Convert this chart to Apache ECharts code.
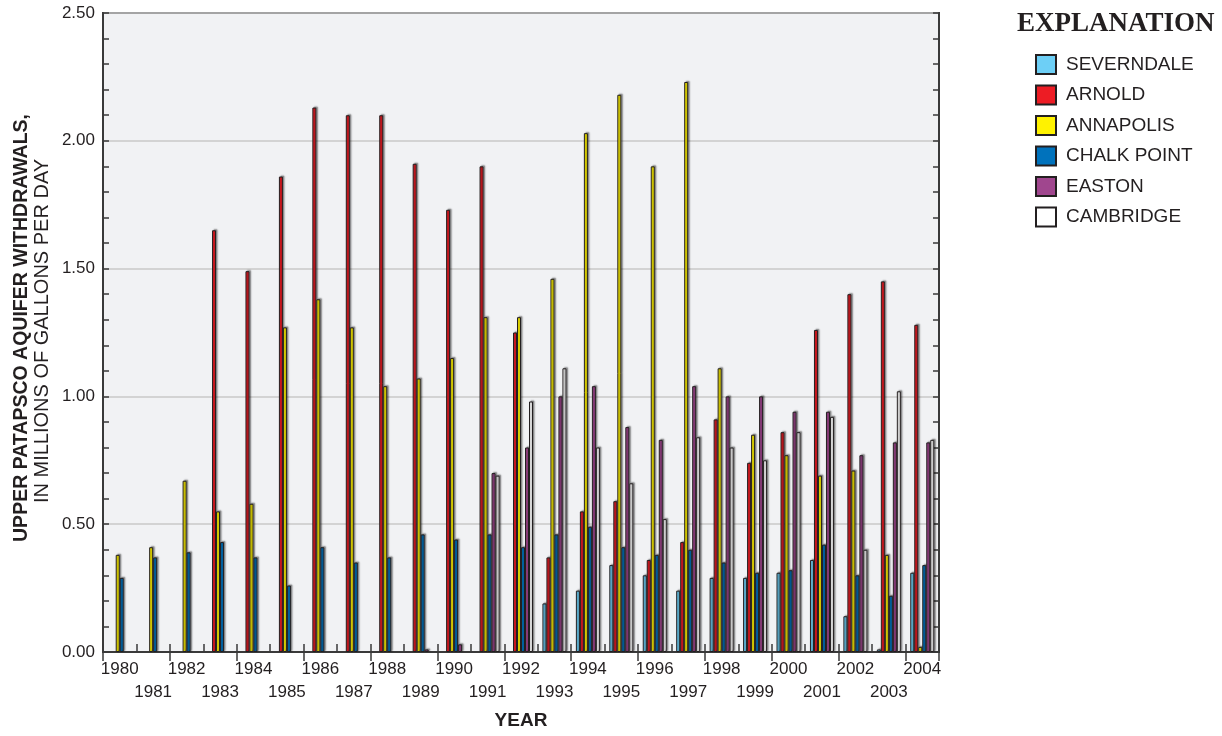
<!DOCTYPE html>
<html>
<head>
<meta charset="utf-8">
<script src="https://cdn.jsdelivr.net/npm/echarts@6/dist/echarts.min.js"></script>
<style>
html,body{margin:0;padding:0;background:#fff;}
#chart{width:1222px;height:736px;}
</style>
</head>
<body>
<div id="chart"></div>
<script>
const years = ['1980','1981','1982','1983','1984','1985','1986','1987','1988','1989','1990','1991','1992','1993','1994','1995','1996','1997','1998','1999','2000','2001','2002','2003','2004'];
const severndale = [null,null,null,null,null,null,null,null,null,null,null,null,null,0.19,0.24,0.34,0.30,0.24,0.29,0.29,0.31,0.36,0.14,0.01,0.31];
const arnold = [null,null,null,1.65,1.49,1.86,2.13,2.10,2.10,1.91,1.73,1.90,1.25,0.37,0.55,0.59,0.36,0.43,0.91,0.74,0.86,1.26,1.40,1.45,1.28];
const annapolis = [0.38,0.41,0.67,0.55,0.58,1.27,1.38,1.27,1.04,1.07,1.15,1.31,1.31,1.46,2.03,2.18,1.90,2.23,1.11,0.85,0.77,0.69,0.71,0.38,0.02];
const chalkPoint = [0.29,0.37,0.39,0.43,0.37,0.26,0.41,0.35,0.37,0.46,0.44,0.46,0.41,0.46,0.49,0.41,0.38,0.40,0.35,0.31,0.32,0.42,0.30,0.22,0.34];
const easton = [null,null,null,null,null,null,null,null,null,0.01,0.03,0.70,0.80,1.00,1.04,0.88,0.83,1.04,1.00,1.00,0.94,0.94,0.77,0.82,0.82];
const cambridge = [null,null,null,null,null,null,null,null,null,null,null,0.69,0.98,1.11,0.80,0.66,0.52,0.84,0.80,0.75,0.86,0.92,0.40,1.02,0.83];
const yTicks = ['0.00','0.50','1.00','1.50','2.00','2.50'];

const seriesDefs = [
  {name:'SEVERNDALE', data:severndale, color:'#6dcff6'},
  {name:'ARNOLD', data:arnold, color:'#ed1c24'},
  {name:'ANNAPOLIS', data:annapolis, color:'#fff200'},
  {name:'CHALK POINT', data:chalkPoint, color:'#0072bc'},
  {name:'EASTON', data:easton, color:'#a0468e'},
  {name:'CAMBRIDGE', data:cambridge, color:'#ffffff'}
];

const tickFont='Liberation Sans', tickSize=17;

const chart = echarts.init(document.getElementById('chart'), null, {renderer:'canvas'});
const option = {
  backgroundColor:'#ffffff',
  animation:false,
  grid:{left:103,right:283,top:13,bottom:84,show:true,backgroundColor:'#f1f2f4',borderColor:'#3a3a3a',borderWidth:2},
  legend:{
    orient:'vertical', left:1035, top:54, itemWidth:20, itemHeight:19, itemGap:9.5,
    icon:'rect', padding:0,
    textStyle:{fontFamily:'Liberation Sans', fontSize:19, color:'#231f20', padding:[0,0,0,5]},
    data: seriesDefs.map(s=>s.name)
  },
  xAxis:[{
    type:'category', data:years, position:'bottom',
    axisLine:{show:true,lineStyle:{color:'#3a3a3a',width:2}},
    axisTick:{show:true,inside:true,length:8,lineStyle:{color:'#3a3a3a',width:1.5}},
    axisLabel:{interval:0, margin:6, fontFamily:tickFont, fontSize:tickSize, color:'#231f20', lineHeight:23,
      formatter:(v,i)=> (i%2===1 ? '\n'+v : v)}
  },{
    type:'category', data:years, position:'top',
    axisLine:{show:true,lineStyle:{color:'#3a3a3a',width:2}},
    axisTick:{show:true,inside:true,length:9,lineStyle:{color:'#3a3a3a',width:1.5}},
    axisLabel:{show:false}
  }],
  yAxis:[{
    type:'value', min:0, max:2.5, interval:0.5, position:'left',
    axisLine:{show:true,lineStyle:{color:'#3a3a3a',width:2}},
    axisTick:{show:true,inside:true,length:6,lineStyle:{color:'#3a3a3a',width:1.5}},
    minorTick:{show:true,splitNumber:5,length:6,lineStyle:{color:'#3a3a3a',width:1.5}},
    splitLine:{show:true,lineStyle:{color:'#c9c9c9',width:1.5}},
    axisLabel:{margin:8, fontFamily:tickFont, fontSize:tickSize, color:'#231f20',
      formatter:(v)=> yTicks[Math.round(v/0.5)]}
  },{
    type:'value', min:0, max:2.5, interval:0.5, position:'right',
    axisLine:{show:true,lineStyle:{color:'#3a3a3a',width:2}},
    axisTick:{show:true,inside:true,length:6,lineStyle:{color:'#3a3a3a',width:1.5}},
    minorTick:{show:true,splitNumber:5,length:6,lineStyle:{color:'#3a3a3a',width:1.5}},
    splitLine:{show:false},
    axisLabel:{show:false}
  }],
  series: seriesDefs.map(s=>({
    name:s.name, type:'bar', xAxisIndex:0, yAxisIndex:0,
    data:s.data, barWidth:4, barGap:'0%',
    itemStyle:{color:s.color, borderColor:'#231f20', borderWidth:1,
      shadowColor:'rgba(0,0,0,0.4)', shadowOffsetX:1.5, shadowOffsetY:-1, shadowBlur:1.5}
  })),
  graphic:[
    {type:'text', x:21.7, y:328, rotation:Math.PI/2,
     style:{text:'UPPER PATAPSCO AQUIFER WITHDRAWALS,', fontFamily:'Liberation Sans', fontWeight:'bold', fontSize:19.5, fill:'#231f20', align:'center', verticalAlign:'middle'}},
    {type:'text', x:42.7, y:331, rotation:Math.PI/2,
     style:{text:'IN MILLIONS OF GALLONS PER DAY', fontFamily:'Liberation Sans', fontSize:20, fill:'#231f20', align:'center', verticalAlign:'middle'}},
    {type:'text', x:521, y:721,
     style:{text:'YEAR', fontFamily:'Liberation Sans', fontWeight:'bold', fontSize:19, fill:'#231f20', align:'center', verticalAlign:'middle'}},
    {type:'text', x:1017, y:24,
     style:{text:'EXPLANATION', fontFamily:'Liberation Serif', fontWeight:'bold', fontSize:27, fill:'#231f20', align:'left', verticalAlign:'middle'}}
  ]
};
chart.setOption(option);
</script>
</body>
</html>
